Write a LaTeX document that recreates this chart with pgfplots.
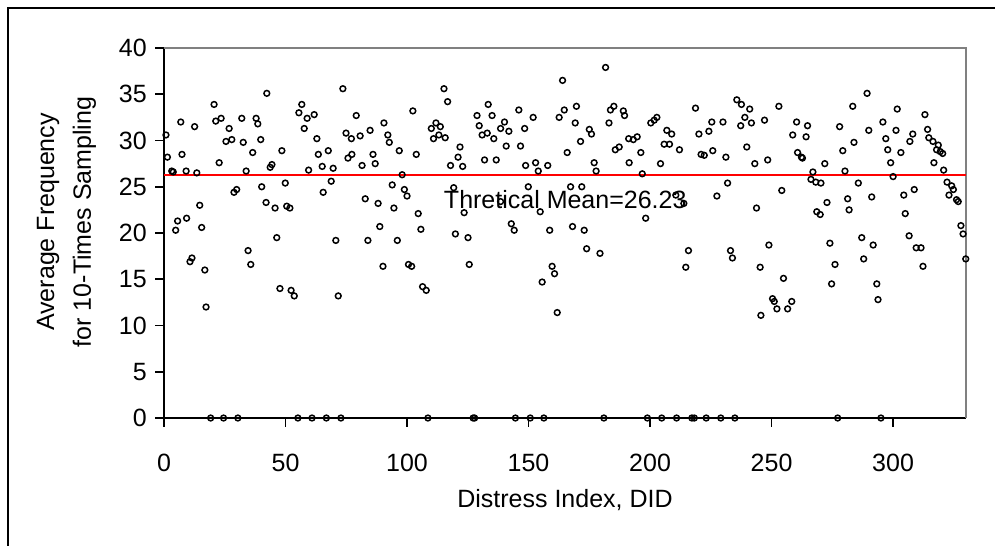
\documentclass[border=0pt]{standalone}
\usepackage{fontspec}
\setmainfont{Liberation Sans}
\usepackage{pgfplots}
\pgfplotsset{compat=1.18}
\usepackage{pgfplotstable}

\pgfplotstableread{
x y
0.8 30.6
1.4 28.2
3.2 26.7
3.8 26.6
4.8 20.3
5.6 21.3
6.9 32.0
7.4 28.5
9.1 26.7
9.3 21.6
10.7 16.9
11.5 17.3
12.6 31.5
13.5 26.5
14.7 23.0
15.5 20.6
16.8 16.0
17.3 12.0
19.2 0
20.6 33.9
21.3 32.1
22.7 27.6
23.5 32.4
24.5 0
25.5 29.9
26.8 31.3
27.9 30.1
28.8 24.4
29.9 24.7
30.4 0
32.0 32.4
32.6 29.8
33.8 26.7
34.6 18.1
35.7 16.6
36.5 28.7
37.9 32.4
38.6 31.8
39.8 30.1
40.2 25.0
42.0 23.3
42.3 35.1
43.7 27.1
44.4 27.4
45.7 22.7
46.4 19.5
47.7 14.0
48.5 28.9
49.9 25.4
50.5 22.9
51.8 22.7
52.3 13.8
53.6 13.2
55.1 0
55.5 33.0
56.7 33.9
57.7 31.3
58.9 32.4
59.5 26.8
60.9 0
61.8 32.8
62.9 30.2
63.5 28.5
65.1 27.2
65.5 24.4
66.8 0
67.6 28.9
68.8 25.6
69.6 27.0
70.7 19.2
71.7 13.2
72.8 0
73.6 35.6
74.9 30.8
75.7 28.1
77.1 30.2
77.3 28.5
79.1 32.7
80.7 30.5
81.5 27.3
82.8 23.7
83.9 19.2
84.8 31.1
86.0 28.5
86.9 27.5
88.1 23.2
88.8 20.7
90.1 16.4
90.5 31.9
92.1 30.6
92.7 29.8
93.9 25.2
94.6 22.7
96.0 19.2
96.8 28.9
98.0 26.3
98.9 24.7
100.0 24.0
100.6 16.6
101.9 16.4
102.4 33.2
103.8 28.5
104.6 22.1
105.7 20.4
106.4 14.2
107.9 13.8
108.6 0
110.0 31.3
110.9 30.2
111.9 31.9
113.1 30.6
113.7 31.5
115.2 35.6
115.7 30.3
116.7 34.2
117.9 27.3
119.2 24.9
119.9 19.9
121.0 28.2
121.8 29.3
122.9 27.2
123.5 22.2
125.1 19.5
125.6 16.6
127.2 0
127.8 0
128.8 32.7
129.7 31.6
130.9 30.6
131.9 27.9
133.0 30.8
133.4 33.9
135.0 32.7
135.7 30.2
136.7 27.9
138.5 31.3
138.5 23.4
140.1 32.0
140.8 29.4
141.9 31.0
142.9 21.0
144.1 20.3
144.6 0
146.0 33.3
146.7 29.4
148.4 31.3
148.8 27.3
149.9 25.0
150.7 0
151.9 32.5
152.9 27.6
154.0 26.7
154.8 22.3
155.6 14.7
156.3 0
157.9 27.3
158.7 20.3
159.7 16.4
160.7 15.6
161.8 11.4
162.6 32.5
164.0 36.5
164.7 33.3
165.9 28.7
167.3 25.0
168.1 20.7
169.2 31.9
169.7 33.7
171.4 29.9
171.9 25.0
172.9 20.3
173.9 18.3
175.0 31.2
175.9 30.7
177.0 27.6
177.8 26.7
179.4 17.8
181.0 0
181.7 37.9
183.1 31.9
183.7 33.3
185.1 33.7
185.7 29.0
187.3 29.3
189.0 33.2
189.5 32.7
191.2 30.2
191.4 27.6
193.1 30.1
194.7 30.4
196.2 28.7
196.8 26.4
198.2 21.6
198.9 0
200.3 31.9
201.7 32.2
202.8 32.5
204.3 27.5
204.8 0
205.8 29.6
206.9 31.1
208.0 29.6
208.9 30.7
210.6 24.1
210.9 0
212.1 29.0
213.9 23.2
214.7 16.3
215.8 18.1
217.2 0
218.2 0
218.7 33.5
220.1 30.7
221.0 28.5
222.3 28.4
223.1 0
224.2 31.0
225.4 32.0
225.8 28.9
227.5 24.0
229.1 0
230.0 32.0
231.2 28.2
231.9 25.4
233.1 18.1
233.9 17.3
234.9 0
235.7 34.4
237.3 31.6
237.6 33.9
239.0 32.5
239.8 29.3
241.0 33.4
241.7 31.9
243.1 27.5
243.8 22.7
245.3 16.3
245.6 11.1
247.1 32.2
248.4 27.9
248.9 18.7
250.4 12.9
251.1 12.6
252.2 11.8
253.0 33.7
254.2 24.6
254.9 15.1
256.6 11.8
258.3 12.6
258.7 30.6
260.3 32.0
260.7 28.7
262.3 28.2
262.7 28.1
264.2 30.4
264.8 31.6
266.2 25.8
267.0 26.6
268.2 25.5
268.6 22.3
270.0 22.0
270.3 25.4
271.9 27.5
272.8 23.3
274.0 18.9
274.7 14.5
276.1 16.6
277.2 0
278.0 31.5
279.3 28.9
280.2 26.7
281.3 23.7
281.9 22.5
283.4 33.7
283.9 29.8
285.7 25.4
287.1 19.5
287.9 17.2
289.3 35.1
290.0 31.1
291.2 23.9
291.8 18.7
293.3 14.5
293.8 12.8
295.0 0
295.8 32.0
297.0 30.2
297.8 29.0
299.0 27.6
300.0 26.1
301.2 31.1
301.7 33.4
303.2 28.7
304.4 24.1
305.0 22.1
306.6 19.7
306.9 29.9
308.1 30.7
308.7 24.7
309.5 18.4
311.5 18.4
312.3 16.4
313.1 32.8
314.2 31.2
314.7 30.3
316.4 29.9
316.8 27.6
317.9 29.0
318.6 29.5
319.4 28.8
320.4 28.6
320.8 26.8
322.2 25.5
323.0 24.1
324.1 25.1
324.8 24.7
326.1 23.6
326.8 23.4
327.9 20.8
328.8 19.9
329.9 17.2
}\datatable

\begin{document}
\begin{tikzpicture}
\begin{axis}[
  at={(0,0)}, anchor=south west,
  scale only axis, width=320.8pt, height=148pt,
  xmin=0, xmax=330, ymin=0, ymax=40,
  axis lines=left, axis line style={-, black, line width=0.7pt},
  xtick={0,50,...,300}, ytick={0,5,...,40},
  tick align=outside, major tick length=3.4pt,
  tick style={black, line width=0.7pt},
  /pgf/number format/assume math mode=true,
  ticklabel style={font=\fontsize{10}{12}\selectfont},
  xticklabel style={yshift=-7.6pt},
  clip=false,
  xlabel={Distress Index, DID},
  ylabel={Average Frequency\\[2.7pt]for 10-Times Sampling},
  every axis x label/.style={at={(rel axis cs:0.5,0)}, anchor=center, yshift=-32.8pt, font=\fontsize{10}{12}\selectfont},
  every axis y label/.style={at={(rel axis cs:0,0.53)}, rotate=90, anchor=center, yshift=39pt, align=center, font=\fontsize{10}{12}\selectfont},
]
\draw[gray, line width=0.7pt] (rel axis cs:0,1) -- (rel axis cs:1,1) -- (rel axis cs:1,0);
\addplot[draw=red, line width=0.8pt, no marks] coordinates {(0,26.23) (330,26.23)};
\addplot[only marks, mark=o, mark size=1.15pt, mark options={line width=0.6pt, draw=black}] table[x=x,y=y] {\datatable};
\node[anchor=west, inner sep=0pt, font=\fontsize{10}{12}\selectfont] at (axis cs:115,23.6) {Thretical Mean=26.23};
\end{axis}
\draw[black, line width=0.8pt] (-62.4pt,-60pt) -- (-62.4pt,164pt) -- (340pt,164pt);
\pgfresetboundingbox
\path[use as bounding box] (-65.6pt,-50.8pt) rectangle (332.4pt,167.2pt);
\end{tikzpicture}
\end{document}
